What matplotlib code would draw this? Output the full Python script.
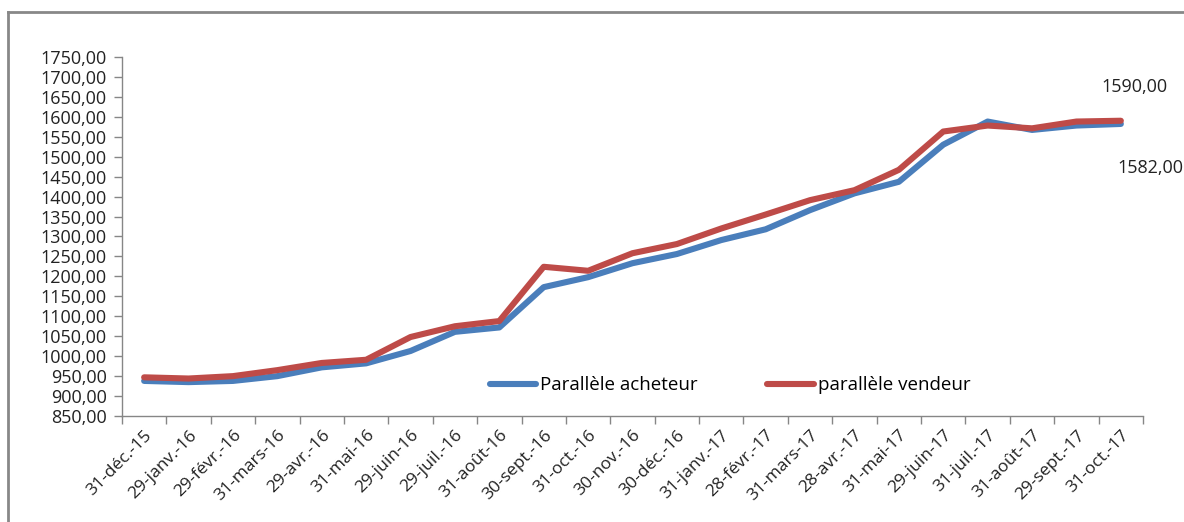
import matplotlib.pyplot as plt
from matplotlib.lines import Line2D
from matplotlib.ticker import FixedLocator, FuncFormatter

plt.rcParams['font.family'] = ['Open Sans', 'DejaVu Sans']

dates = ['31-déc.-15', '29-janv.-16', '29-févr.-16', '31-mars-16', '29-avr.-16',
         '31-mai-16', '29-juin-16', '29-juil.-16', '31-août-16', '30-sept.-16',
         '31-oct.-16', '30-nov.-16', '30-déc.-16', '31-janv.-17', '28-févr.-17',
         '31-mars-17', '28-avr.-17', '31-mai-17', '29-juin-17', '31-juil.-17',
         '31-août-17', '29-sept.-17', '31-oct.-17']

acheteur = [938, 935, 938, 950, 972, 982, 1013, 1061, 1072, 1173, 1198, 1233,
            1256, 1291, 1318, 1366, 1408, 1437, 1530, 1588, 1567, 1578, 1582]
vendeur = [947, 944, 950, 965, 983, 991, 1048, 1075, 1088, 1224, 1214, 1258,
           1281, 1320, 1355, 1391, 1416, 1467, 1563, 1578, 1571, 1588, 1590]

blue = '#4A7EBB'
red = '#BE4B48'
grey = '#868686'
txt = '#222222'

fig = plt.figure(figsize=(11.84, 5.22), dpi=100)
ax = fig.add_axes([0.103, 0.203, 0.8624, 0.688])

x = list(range(len(dates)))
ax.plot(x, acheteur, color=blue, lw=4.4, solid_capstyle='round',
        solid_joinstyle='round', label='Parallèle acheteur')
ax.plot(x, vendeur, color=red, lw=4.4, solid_capstyle='round',
        solid_joinstyle='round', label='parallèle vendeur')

ax.set_xlim(-0.5, len(dates) - 0.5)
ax.set_ylim(850, 1750)
ax.set_yticks(range(850, 1751, 50))
ax.yaxis.set_major_formatter(FuncFormatter(lambda v, p: f'{v:.2f}'.replace('.', ',')))

ax.set_xticks(x)
ax.set_xticklabels(dates, rotation=45, ha='right', rotation_mode='anchor')
ax.xaxis.set_minor_locator(FixedLocator([i - 0.5 for i in range(len(dates) + 1)]))
ax.tick_params(axis='x', which='major', length=0, pad=8, labelsize=12.5, colors=txt)
ax.tick_params(axis='x', which='minor', length=6, color=grey, width=1)
ax.tick_params(axis='y', length=6, color=grey, width=1, labelsize=13, colors=txt, pad=5)

for s in ['top', 'right']:
    ax.spines[s].set_visible(False)
for s in ['left', 'bottom']:
    ax.spines[s].set_color(grey)
    ax.spines[s].set_linewidth(1)

# values of the last point
ax.annotate('1590,00', (x[-1], vendeur[-1]), xytext=(14, 34), textcoords='offset pixels',
            ha='center', va='center', fontsize=13, color=txt)
ax.annotate('1582,00', (x[-1], acheteur[-1]), xytext=(30, -44), textcoords='offset pixels',
            ha='center', va='center', fontsize=13, color=txt)

ax.legend(loc='center', bbox_to_anchor=(0.5955, 0.086), ncol=2, frameon=False,
          fontsize=13.5, handlelength=2.5, columnspacing=3.7, handletextpad=0.2)

# outer chart frame
fig.add_artist(Line2D([0.0068, 1.0], [1 - 12 / 522, 1 - 12 / 522], transform=fig.transFigure,
                      color='#888888', lw=2))
fig.add_artist(Line2D([8 / 1184, 8 / 1184], [0, 1 - 12 / 522], transform=fig.transFigure,
                      color='#888888', lw=2))

fig.savefig('out.png', dpi=100, facecolor='white')
